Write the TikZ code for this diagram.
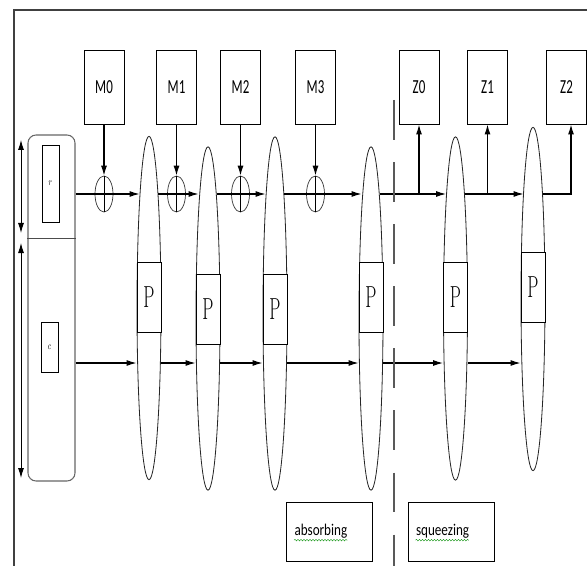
\documentclass[tikz,border=0pt]{standalone}
\usepackage{fontspec}
\newfontfamily\calibri{Carlito}
\usetikzlibrary{arrows.meta,shapes.geometric,decorations.pathmorphing}
\newcommand{\narrowtxt}[2]{\scalebox{#1}[1]{#2}}

\begin{document}
\begin{tikzpicture}[x=0.03cm, y=-0.03cm, >={Latex[length=3mm,width=1.8mm]},
  every node/.style={inner sep=0pt},
  mbox/.style={draw, line width=0.8pt, minimum width=1.2cm, minimum height=2.22cm, font=\calibri\fontsize{17}{17}\selectfont},
  lens/.style={draw, ellipse, black!85, line width=0.7pt, minimum width=0.72cm, minimum height=10.3cm},
  pbox/.style={draw, fill=white, line width=0.8pt, minimum width=0.72cm, minimum height=2.1cm, font=\fontsize{26}{26}\selectfont},
  xorop/.style={draw, ellipse, black!80, line width=0.6pt, minimum width=0.54cm, minimum height=1.08cm},
  regbox/.style={draw, line width=0.8pt, minimum width=0.51cm, font=\small},
  tagbox/.style={draw, line width=0.8pt, minimum height=1.77cm, text width=2.1cm, inner xsep=2.4mm, align=left, font=\calibri\fontsize{14}{14}\selectfont},
  flow/.style={->, line width=1pt},
  toprow/.style={flow, shorten <=-0.9mm, shorten >=-0.9mm},
  wavy/.style={green!55!black, line width=0.3pt, decorate, decoration={snake, amplitude=0.25mm, segment length=0.9mm}}]
\useasboundingbox (0,0) rectangle (587,566);
% frame
\draw[line width=1.4pt, black!75] (587,10) -- (14,10) -- (14,566);

% state r|c
\node[draw, black!60, line width=0.9pt, rounded corners=2.4mm, minimum width=1.41cm, minimum height=10.38cm] (state) at (51.5,308) {};
\coordinate (cut) at (0,238);
\draw[black!70, line width=0.8pt] (state.west |- cut) -- (state.east |- cut);
\node[regbox, minimum height=2.31cm] (rreg) at (50.5,183.5) {\narrowtxt{.7}{$r$}};
\node[regbox, minimum height=1.5cm] (creg) at (49.5,347) {\narrowtxt{.7}{$c$}};
\coordinate (ltop) at (21,140);
\coordinate (lmida) at (21,233);
\coordinate (lmidb) at (21,243);
\coordinate (lbot) at (21,478);
\draw[<->, line width=0.8pt] (ltop) -- (lmida);
\draw[<->, line width=0.8pt] (lmidb) -- (lbot);

\coordinate (rowt) at (0,194);
\coordinate (rowb) at (0,363);

% message blocks and outputs
\node[mbox] (m0) at (104,87) {\narrowtxt{.65}{M0}};
\node[mbox] (m1) at (176.5,87) {\narrowtxt{.65}{M1}};
\node[mbox] (m2) at (240.5,87) {\narrowtxt{.65}{M2}};
\node[mbox] (m3) at (315.5,87) {\narrowtxt{.65}{M3}};
\node[mbox] (z0) at (419,87) {\narrowtxt{.65}{Z0}};
\node[mbox] (z1) at (487.5,87) {\narrowtxt{.65}{Z1}};
\node[mbox] (z2) at (566.5,87) {\narrowtxt{.65}{Z2}};

% xor
\node[xorop] (x0) at (m0 |- rowt) {};
\node[xorop] (x1) at (m1 |- rowt) {};
\node[xorop] (x2) at (m2 |- rowt) {};
\node[xorop] (x3) at (m3 |- rowt) {};

% permutations
\node[lens] (e1) at (149,308) {};
\node[lens] (e2) at (208,318.5) {};
\node[lens, minimum height=10.6cm] (e3) at (275,313.5) {};
\node[lens] (e4) at (371,318.5) {};
\node[lens] (e5) at (455.5,308.5) {};
\node[lens] (e6) at (533,299) {};
\node[pbox] (p1) at (149,297) {\narrowtxt{.58}{P}};
\node[pbox] (p2) at (208,309) {\narrowtxt{.58}{P}};
\node[pbox] (p3) at (275,309) {\narrowtxt{.58}{P}};
\node[pbox] (p4) at (371,297) {\narrowtxt{.58}{P}};
\node[pbox] (p5) at (455.5,297) {\narrowtxt{.58}{P}};
\node[pbox] (p6) at (533,287) {\narrowtxt{.58}{P}};

% upper row
\draw[flow, shorten >=-0.9mm] (state.east |- rowt) -- (e1.west |- rowt);
\draw[toprow] (e1.east |- rowt) -- (e2.west |- rowt);
\draw[toprow] (e2.east |- rowt) -- (e3.west |- rowt);
\draw[toprow] (e3.east |- rowt) -- (e4.west |- rowt);
\draw[toprow] (e4.east |- rowt) -- (e5.west |- rowt);
\draw[toprow] (e5.east |- rowt) -- (e6.west |- rowt);
\coordinate (zt) at (571,194);
\draw[flow, shorten <=-0.8mm] (e6.east |- rowt) -- (zt) -- (zt |- z2.south);
\foreach \i in {0,...,3}{
  \draw[line width=0.6pt] (x\i.north) -- (x\i.south);
  \draw[flow] (m\i.south) -- (x\i.north);
}
\draw[flow] (z0 |- rowt) -- (z0.south);
\draw[flow] (z1 |- rowt) -- (z1.south);

% lower row
\draw[flow] (state.east |- rowb) -- (e1.west |- rowb);
\draw[flow] (e1.east |- rowb) -- (e2.west |- rowb);
\draw[flow] (e2.east |- rowb) -- (e3.west |- rowb);
\draw[flow] (e3.east |- rowb) -- (e4.west |- rowb);
\draw[flow] (e4.east |- rowb) -- (e5.west |- rowb);
\draw[flow] (e5.east |- rowb) -- (e6.west |- rowb);

% phases
\coordinate (dtop) at (394,100);
\coordinate (dbot) at (394,566);
\draw[black!65, line width=1pt, dash pattern=on 34pt off 19pt] (dtop) -- (dbot);
\node[tagbox] (absb) at (329.5,531.5) {\narrowtxt{.8}{absorbing}};
\node[tagbox] (sqzb) at (451,531.5) {\narrowtxt{.8}{squeezing}};
\draw[wavy] ([xshift=2.4mm, yshift=-2.6mm]absb.west) -- ++(1.6cm,0);
\draw[wavy] ([xshift=2.4mm, yshift=-2.6mm]sqzb.west) -- ++(1.6cm,0);
\end{tikzpicture}
\end{document}
